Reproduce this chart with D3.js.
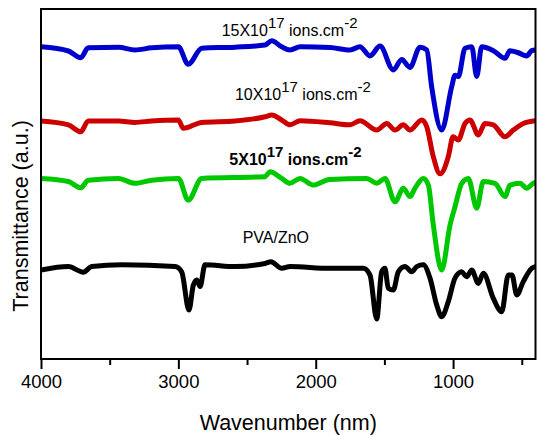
<!DOCTYPE html>
<html>
<head>
<meta charset="utf-8">
<script src="https://cdn.jsdelivr.net/npm/d3@7"></script>
<style>
  html, body { margin: 0; padding: 0; background: #fff; }
  svg { display: block; font-family: Arial, "Liberation Sans", sans-serif; }
</style>
</head>
<body>
<svg id="chart" width="537" height="435"></svg>
<script>
// ---- Data (wavenumber, transmittance a.u.) ----
const wn15 = [4000,3800,3711,3656,3437,3316,3194,3000,2928,2830,2588,2369,2320,2248,2187,2114,1896,1750,1678,1605,1532,1435,1374,1314,1241,1192,1156,1083,1010,986,962,913,864,828,792,707,622,586,525,464,428,400];
const t15  = [89.2,88.0,86.1,88.9,89.1,88.3,88.9,89.2,84.2,88.8,89.1,89.7,90.9,89.2,88.3,89.2,89.0,88.3,89.2,86.6,89.4,82.6,85.6,83.3,89.1,88.3,77.8,65.4,77.8,81.1,80.7,88.8,89.2,80.7,89.2,88.1,85.9,88.1,87.5,86.6,88.1,88.3];

const wn10 = [4000,3800,3711,3656,3437,3316,3194,3000,2964,2830,2588,2369,2320,2248,2187,2114,1896,1750,1678,1556,1483,1423,1362,1314,1228,1192,1144,1095,1035,1000,962,913,877,816,768,707,622,562,489,400];
const t10  = [68.0,66.9,64.9,68.0,68.0,67.6,68.0,68.3,65.9,67.6,68.0,69.2,69.7,68.3,66.9,68.1,67.5,66.9,68.1,65.4,67.3,65.4,66.9,65.4,68.3,66.4,57.8,52.9,57.8,63.5,62.6,67.3,68.3,64.0,67.3,66.9,63.5,65.4,67.3,68.1];

const wn5 = [4000,3800,3711,3656,3437,3316,3194,3000,2928,2830,2369,2333,2248,2187,2114,2018,1900,1629,1556,1496,1423,1362,1314,1277,1217,1180,1144,1083,1022,986,937,889,828,780,695,622,586,513,464,416,400];
const t5  = [51.6,50.7,48.9,51.1,51.6,50.2,51.1,51.6,45.4,51.6,52.1,53.5,51.6,50.2,51.6,49.7,51.3,51.6,50.2,51.6,44.9,48.8,46.4,48.8,51.6,49.7,38.3,25.4,38.3,43.5,50.2,51.6,43.1,50.7,50.2,46.4,49.7,50.2,48.8,50.2,50.5];

const wnPVA = [4000,3801,3692,3631,3412,3024,2976,2923,2891,2866,2842,2806,2588,2369,2326,2248,2187,1896,1654,1605,1556,1520,1496,1472,1435,1399,1350,1301,1265,1217,1168,1119,1083,1035,986,937,901,864,816,780,707,646,598,571,537,489,428,400];
const tPVA  = [25.4,26.4,24.8,26.4,26.9,26.4,24.9,14.0,21.1,22.6,20.7,26.9,26.4,27.3,27.8,25.9,26.4,25.9,25.9,24.0,11.4,24.9,25.9,20.2,19.7,24.9,26.4,24.9,26.4,26.9,23.1,15.4,12.1,16.4,23.1,24.9,23.5,25.4,21.6,24.5,17.3,13.5,24.0,24.0,18.3,22.1,25.9,26.4];

const seriesNames  = ["15X10^17", "10X10^17", "5X10^17", "PVA/ZnO"];
const seriesColors = ["#0000cc", "#cc0000", "#00c800", "#000000"];

const majorTicks = [4000, 3000, 2000, 1000];
const minorTicks = [3500, 2500, 1500, 500];
const xDomain = [4000, 400];
const yDomain = [0, 100];

// label anchors in data units
const labelWn = [2685, 2588, 2629, 2532];
const labelT  = [92.4, 74.1, 55.3, 33.1];

// ---- Drawing ----
const svg = d3.select("#chart");
const m = {left: 41, right: 535.5, top: 9, bottom: 359};

const x = d3.scaleLinear().domain(xDomain).range([m.left, m.right]);
const y = d3.scaleLinear().domain(yDomain).range([m.bottom, m.top]);

svg.append("defs").append("clipPath").attr("id", "clip")
  .append("rect").attr("x", m.left).attr("y", m.top)
  .attr("width", m.right - m.left).attr("height", m.bottom - m.top);

const series = [
  {wn: wn15, t: t15}, {wn: wn10, t: t10}, {wn: wn5, t: t5}, {wn: wnPVA, t: tPVA}
].map((s, i) => ({
  name: seriesNames[i], color: seriesColors[i],
  pts: s.wn.map((w, j) => [w, s.t[j]])
}));

const line = d3.line()
  .x(d => x(d[0])).y(d => y(d[1]))
  .curve(d3.curveMonotoneX);

const g = svg.append("g").attr("clip-path", "url(#clip)");
g.selectAll("path.series").data(series).join("path")
  .attr("class", "series")
  .attr("d", d => line(d.pts))
  .attr("fill", "none")
  .attr("stroke", d => d.color)
  .attr("stroke-width", 5)
  .attr("stroke-linejoin", "round")
  .attr("stroke-linecap", "round");

// frame
svg.append("rect")
  .attr("x", m.left).attr("y", m.top)
  .attr("width", m.right - m.left).attr("height", m.bottom - m.top)
  .attr("fill", "none").attr("stroke", "#000").attr("stroke-width", 2);

// axes
const xAxis = svg.append("g").attr("transform", `translate(0,${m.bottom})`)
  .call(d3.axisBottom(x).tickValues(majorTicks).tickSize(10).tickPadding(6).tickFormat(d3.format("d")));
const xMinor = svg.append("g").attr("transform", `translate(0,${m.bottom})`)
  .call(d3.axisBottom(x).tickValues(minorTicks).tickSize(6).tickFormat(""));
[xAxis, xMinor].forEach(a => {
  a.select(".domain").remove();
  a.selectAll(".tick line").attr("stroke", "#000").attr("stroke-width", 2);
});
xAxis.selectAll(".tick text")
  .attr("font-size", "18.5px").attr("fill", "#000")
  .attr("font-family", "Arial, 'Liberation Sans', sans-serif");

// axis titles
svg.append("text")
  .attr("x", (m.left + m.right) / 2).attr("y", 430)
  .attr("text-anchor", "middle").attr("font-size", "21.5px")
  .text("Wavenumber (nm)");

svg.append("text")
  .attr("transform", "translate(27.5,216) rotate(-90)")
  .attr("text-anchor", "middle").attr("font-size", "21.5px")
  .text("Transmittance (a.u.)");

// series labels
series.forEach((s, i) => {
  const t = svg.append("text")
    .attr("x", x(labelWn[i])).attr("y", y(labelT[i]))
    .attr("font-size", "16px").attr("fill", "#000")
    .attr("font-weight", i === 2 ? "bold" : "normal");
  if (s.name.includes("^")) {
    const base = s.name.split("^");
    t.append("tspan").text(base[0]);
    t.append("tspan").attr("dy", -8).attr("font-size", "15px").text(base[1]);
    t.append("tspan").attr("dy", 8).text(" ions.cm");
    t.append("tspan").attr("dy", -8).attr("font-size", "15px").text("-2");
  } else {
    t.text(s.name);
  }
});
</script>
</body>
</html>
